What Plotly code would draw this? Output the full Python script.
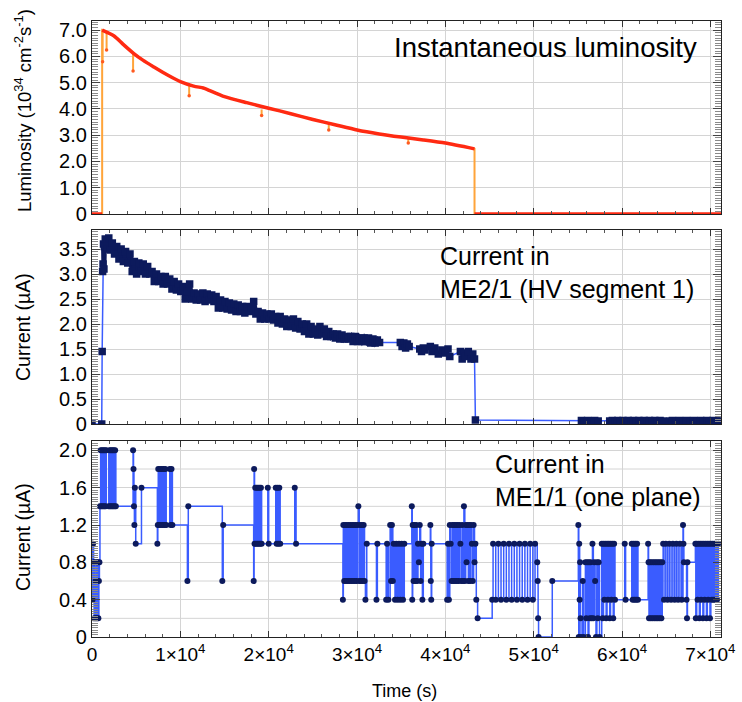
import plotly.graph_objects as go

# ---------------- data ----------------
# Top panel: instantaneous luminosity (10^34 cm^-2 s^-1)
lumi_time = [0, 1150, 1150, 2500, 3500, 4700, 5800, 7000, 8500, 10000, 11500, 12600, 13000,
             15000, 17500, 20000, 22500, 25000, 27500, 30000, 32500, 35000, 37500, 40000,
             43300, 43300, 71200]
lumi_value = [0, 0, 7.0, 6.78, 6.47, 6.12, 5.85, 5.6, 5.3, 5.04, 4.87, 4.8, 4.75,
              4.47, 4.24, 4.03, 3.82, 3.6, 3.4, 3.2, 3.05, 2.93, 2.82, 2.7,
              2.48, 0, 0]
dip_time = [1200, 1650, 4650, 11000, 19200, 26800, 35800]
dip_top = [6.95, 6.9, 6.12, 4.92, 3.98, 3.42, 2.9]
dip_low = [5.8, 6.25, 5.45, 4.5, 3.75, 3.2, 2.7]

# Middle panel: current in ME2/1 (HV segment 1), uA
me21_time = [0, 1100, 1150, 1200, 1250, 1300, 1350, 1400, 1500, 1700, 1900, 2100, 2300,
             2550, 2800, 3050, 3300, 3550, 3800, 4050, 4300, 4550, 4800, 5050, 5300,
             5550, 5800, 6050, 6300, 6550, 6800, 7050, 7300, 7550, 7800, 8050, 8300,
             8550, 8800, 9050, 9300, 9550, 9800, 10050, 10300, 10550, 10800, 11050, 11300,
             11550, 11800, 12050, 12300, 12550, 12800, 13050, 13300, 13550, 13800, 14050, 14300,
             14550, 14800, 15050, 15300, 15550, 15800, 16050, 16300, 16550, 16800, 17050, 17300,
             17550, 17800, 18050, 18300, 18550, 18800, 19050, 19300, 19550, 19800, 20050, 20300,
             20550, 20800, 21050, 21300, 21550, 21800, 22050, 22300, 22550, 22800, 23050, 23300,
             23550, 23800, 24050, 24300, 24550, 24800, 25050, 25300, 25550, 25800, 26050, 26300,
             26550, 26800, 27050, 27300, 27550, 27800, 28050, 28300, 28550, 28800, 29050, 29300,
             29550, 29800, 30050, 30300, 30550, 30800, 31050, 31300, 31550, 31800, 32050, 32300,
             32550, 34900, 35100, 35300, 35500, 35700, 35900, 37100, 37300, 37500, 37700, 38300,
             38500, 38800, 39200, 39600, 40000, 40300, 40500, 41700, 41900, 42100, 42300, 42600,
             42900, 43100, 43300, 43400, 55400, 55700, 56100, 56500, 56900, 57300, 58600, 58900,
             59200, 59500, 59800, 60100, 60400, 60700, 61000, 61300, 61600, 61900, 62200, 62500,
             62800, 63100, 63400, 63700, 64000, 64300, 64600, 65400, 65700, 66100, 66500, 66900,
             67300, 67700, 68100, 68500, 68900, 69200, 69600, 69900, 70300, 70700, 71000]
me21_current = [0.0, 0.0, 1.45, 3.05, 3.2, 3.6, 3.1, 3.55, 3.7, 3.5, 3.72, 3.48, 3.62,
                3.4, 3.55, 3.3, 3.5, 3.25, 3.45, 3.22, 3.4, 3.05, 3.25, 3.0, 3.22,
                3.05, 3.2, 3.0, 3.15, 3.0, 3.05, 2.85, 3.0, 2.85, 2.95, 2.8, 2.95,
                2.8, 2.9, 2.7, 2.85, 2.68, 2.8, 2.65, 2.75, 2.5, 2.65, 2.8, 2.5,
                2.62, 2.48, 2.6, 2.48, 2.62, 2.45, 2.6, 2.48, 2.58, 2.45, 2.55, 2.32,
                2.48, 2.32, 2.45, 2.3, 2.42, 2.28, 2.4, 2.25, 2.38, 2.25, 2.35, 2.22,
                2.35, 2.25, 2.32, 2.45, 2.2, 2.25, 2.1, 2.22, 2.1, 2.2, 2.1, 2.2,
                2.08, 2.15, 2.02, 2.15, 2.0, 2.1, 1.95, 2.08, 1.95, 2.1, 1.92, 2.05,
                1.9, 2.0, 1.85, 2.0, 1.8, 1.95, 1.8, 1.9, 1.78, 1.95, 1.8, 1.9,
                1.75, 1.85, 1.75, 1.8, 1.72, 1.8, 1.7, 1.78, 1.7, 1.75, 1.7, 1.75,
                1.65, 1.75, 1.65, 1.72, 1.65, 1.72, 1.65, 1.72, 1.62, 1.7, 1.62, 1.68,
                1.63, 1.63, 1.55, 1.62, 1.52, 1.6, 1.55, 1.5, 1.45, 1.52, 1.48, 1.55,
                1.45, 1.52, 1.4, 1.48, 1.42, 1.5, 1.35, 1.45, 1.3, 1.42, 1.35, 1.45,
                1.3, 1.4, 1.3, 0.08, 0.07, 0.06, 0.07, 0.06, 0.07, 0.06, 0.06, 0.07,
                0.06, 0.07, 0.06, 0.07, 0.06, 0.07, 0.06, 0.07, 0.06, 0.07, 0.06, 0.07,
                0.06, 0.07, 0.06, 0.07, 0.06, 0.07, 0.06, 0.06, 0.07, 0.06, 0.07, 0.06,
                0.07, 0.06, 0.07, 0.06, 0.07, 0.06, 0.07, 0.06, 0.07, 0.06, 0.06]
# the densely sampled band (dark) spans these times
me21_band_start_time = 1300
me21_band_end_time = 32550

# Bottom panel: current in ME1/1 (one plane), uA (step-wise readings)
me11_time = [0, 60, 120, 180, 240, 300, 360, 420, 480, 540, 600, 660, 720, 780, 840,
             900, 980, 1060, 1140, 1220, 1300, 1380, 1460, 1540, 1620,
             1900, 1980, 2060, 2140, 2220, 2300, 2380, 2460, 2540, 2620, 2700,
             4650, 4700, 4750, 4800, 4850, 4950, 5600,
             7400, 7450, 7500, 7600, 7700, 7800, 7900, 8000, 8100, 8200, 8300, 8400, 8800, 8900, 9000, 9100,
             10800, 10900,
             14750, 14850,
             18300, 18350, 18400, 18480, 18560, 18640, 18720, 18800, 18880, 18960, 19040, 19120, 19200,
             19900, 20000, 20800, 20900, 21000, 21100, 21200, 21300, 22950, 23100,
             28400, 28450, 28550, 28650, 28750, 28850, 28950, 29050, 29150, 29250, 29350, 29450, 29550,
             29650, 29750, 29850, 29950, 30050, 30150, 30250, 30350, 30450, 30550, 30650, 30750, 30850,
             30950, 31100,
             32200, 32300, 33300, 33400, 33550, 33750, 33850, 33950, 34050, 34150, 34300, 34450, 34600,
             34750, 34900, 35050, 35200, 35350,
             36200, 36250, 36300, 36400, 36500, 36600, 36700, 36800, 36900, 37000, 37100, 37200, 37300,
             37400, 37500,
             38300, 38350, 38400, 38450,
             40200, 40300, 40400, 40500, 40600, 40700, 40800, 40900, 41000, 41100, 41200, 41300, 41400,
             41500, 41600, 41700, 41800, 41900, 42000, 42100, 42200, 42300, 42400, 42500, 42600, 42700,
             42800, 42900, 43000, 43100, 43200, 43300, 43400, 43500, 43650,
             45300, 45400, 45700, 46000, 46300, 46600, 46900, 47200, 47500, 47800, 48100, 48400, 48700,
             49000, 49300, 49600, 49900, 50150, 50400, 50450, 50500, 50550, 52100,
             55050, 55100, 55150, 55200, 55250, 55300, 55350, 55550, 55650, 55850, 55950, 56050, 56150,
             56250, 56350, 56450, 56550, 56650, 56750, 56850, 56950, 57050, 57150, 57250, 57350, 57450,
             57700, 57800, 57900, 58000, 58100, 58200, 58300, 58400, 58500, 58600, 58700, 58800, 58900,
             59000, 59100, 59200,
             60300, 60400, 61100, 61200, 61300, 61400, 61500, 61600, 61700, 61800,
             62950, 63000, 63050, 63150, 63250, 63350, 63450, 63550, 63650, 63750, 63850, 63950, 64050,
             64150, 64250, 64350, 64450, 64550, 64650, 64750, 64950, 65150, 65350, 65550, 65750, 65950,
             66150, 66350, 66550, 66750, 66900, 66950, 67000, 67300, 67350, 67400,
             68300, 68350, 68450, 68550, 68650, 68750, 68850, 68950, 69050, 69150, 69250, 69350, 69450,
             69550, 69650, 69750, 69850, 69950, 70050, 70150, 70250, 70350, 70450, 70550, 70650, 70750,
             70900]
me11_current = [1.0, 0.4, 1.0, 0.8, 0.2, 0.8, 0.2, 0.6, 0.2, 0.8, 0.2, 0.8, 0.2, 0.6, 0.8,
                1.4, 2.0, 1.4, 2.0, 1.4, 2.0, 1.4, 2.0, 1.4, 2.0,
                1.4, 2.0, 1.4, 2.0, 1.4, 2.0, 1.4, 2.0, 1.4, 2.0, 1.4,
                2.0, 1.8, 1.4, 1.2, 1.6, 1.0, 1.6,
                1.0, 1.2, 1.8, 1.2, 1.8, 1.2, 1.8, 1.2, 1.8, 1.2, 1.8, 1.2, 1.8, 1.2, 1.8, 1.2,
                0.6, 1.4,
                0.6, 1.2,
                0.6, 1.8, 1.0, 1.6, 1.0, 1.6, 1.0, 1.6, 1.0, 1.6, 1.0, 1.6, 1.0,
                1.6, 1.0, 1.6, 1.0, 1.6, 1.0, 1.6, 1.0, 1.6, 1.0,
                0.4, 1.2, 0.6, 1.2, 0.6, 1.2, 0.6, 1.2, 0.6, 1.2, 0.6, 1.2, 0.6,
                1.2, 0.6, 1.2, 0.6, 1.2, 1.4, 0.6, 1.2, 0.6, 1.2, 0.6, 1.2, 0.6,
                0.4, 1.0,
                0.4, 1.0, 0.4, 1.0, 0.4, 1.2, 0.6, 1.2, 0.6, 1.0, 0.4, 1.0, 0.4,
                1.0, 0.4, 1.0, 0.4, 1.0,
                1.4, 0.4, 1.2, 0.6, 1.2, 0.6, 1.2, 0.6, 1.0, 0.8, 1.2, 0.6, 1.0,
                0.4, 1.0,
                1.2, 0.6, 0.4, 1.0,
                0.4, 1.0, 0.4, 1.2, 1.0, 0.6, 1.2, 0.6, 1.2, 0.6, 1.2, 0.6, 1.2,
                0.6, 1.2, 1.0, 0.6, 1.2, 0.6, 1.4, 0.6, 1.2, 0.8, 1.2, 0.6, 1.2,
                0.6, 1.2, 1.0, 0.6, 1.2, 0.8, 1.0, 0.4, 0.2,
                0.4, 1.0, 0.4, 1.0, 0.4, 1.0, 0.4, 1.0, 0.4, 1.0, 0.4, 1.0, 0.4,
                1.0, 0.4, 1.0, 0.4, 1.0, 0.8, 0.6, 0.2, 0.0, 0.6,
                1.2, 0.0, 1.0, 0.4, 0.8, 0.2, 0.0, 0.6, 0.0, 0.8, 0.2, 0.8, 0.0,
                0.8, 0.2, 0.8, 0.2, 1.0, 0.2, 0.8, 0.6, 0.0, 0.8, 0.2, 0.8, 0.0,
                1.0, 0.2, 1.0, 0.4, 1.0, 0.2, 1.0, 0.4, 1.0, 0.2, 1.0, 0.4, 1.0,
                0.2, 1.0, 0.4,
                1.0, 0.4, 1.0, 0.4, 1.0, 0.4, 1.0, 0.4, 1.0, 0.4,
                1.0, 0.8, 0.2, 0.8, 0.2, 0.8, 0.2, 0.8, 0.2, 0.8, 0.2, 0.8, 0.2,
                0.8, 0.2, 0.8, 0.2, 0.8, 1.0, 0.4, 1.0, 0.4, 1.0, 0.4, 1.0, 0.4,
                1.0, 0.4, 1.0, 0.4, 1.2, 1.0, 0.8, 0.4, 0.2, 0.8,
                1.0, 0.2, 1.0, 0.4, 1.0, 0.2, 1.0, 0.4, 1.0, 0.2, 1.0, 0.4, 1.0,
                0.2, 1.0, 0.4, 1.0, 0.2, 1.0, 0.4, 1.0, 0.4, 1.0, 0.4, 1.0, 0.4,
                1.0]

assert len(lumi_time) == len(lumi_value)
assert len(me21_time) == len(me21_current)
assert len(me11_time) == len(me11_current)

x_tick_vals = [0, 10000, 20000, 30000, 40000, 50000, 60000, 70000]
x_tick_text = ["0", "1×10<sup>4</sup>", "2×10<sup>4</sup>", "3×10<sup>4</sup>",
               "4×10<sup>4</sup>", "5×10<sup>4</sup>", "6×10<sup>4</sup>", "7×10<sup>4</sup>"]
lumi_tick_vals = [0, 1, 2, 3, 4, 5, 6, 7]
lumi_tick_text = ["0", "1.0", "2.0", "3.0", "4.0", "5.0", "6.0", "7.0"]
me21_tick_vals = [0, 0.5, 1.0, 1.5, 2.0, 2.5, 3.0, 3.5]
me21_tick_text = ["0", "0.5", "1.0", "1.5", "2.0", "2.5", "3.0", "3.5"]
me11_tick_vals = [0, 0.4, 0.8, 1.2, 1.6, 2.0]
me11_tick_text = ["0", "0.4", "0.8", "1.2", "1.6", "2.0"]
me11_grid_vals = [0.2, 0.6, 1.0, 1.4, 1.8]

# ---------------- build figure ----------------
FONT = "Liberation Sans, Arial, Helvetica, sans-serif"
RED = "#ff2a12"
ORANGE = "#ffa43a"
LINE_BLUE = "#3a5cff"
MARK = "#0c1a5c"
GRID = "#d4d4d4"

# orange connection line (including short dips)
or_x = list(lumi_time) + [None]
or_y = list(lumi_value) + [None]
for t, a, b in zip(dip_time, dip_top, dip_low):
    or_x += [t, t, None]
    or_y += [a, b, None]

# red curve: same readings, with vertical jumps left out
red_x, red_y = [lumi_time[0]], [lumi_value[0]]
for i in range(1, len(lumi_time)):
    if lumi_time[i] == lumi_time[i - 1]:
        red_x.append(None)
        red_y.append(None)
    red_x.append(lumi_time[i])
    red_y.append(lumi_value[i])

fig = go.Figure()
fig.add_trace(go.Scatter(x=or_x, y=or_y, mode="lines", line=dict(color=ORANGE, width=2),
                         xaxis="x", yaxis="y", showlegend=False, hoverinfo="skip"))
fig.add_trace(go.Scatter(x=red_x, y=red_y, mode="lines",
                         line=dict(color=RED, width=3.5, shape="spline", smoothing=0.6),
                         xaxis="x", yaxis="y", showlegend=False))
fig.add_trace(go.Scatter(x=dip_time, y=dip_low, mode="markers",
                         marker=dict(color="#ff5a20", size=3.5), xaxis="x", yaxis="y",
                         showlegend=False))

# ME2/1: blue connecting line, dark band of dense readings, dark square markers
band_x = [t for t in me21_time if me21_band_start_time <= t <= me21_band_end_time]
band_y = [v for t, v in zip(me21_time, me21_current)
          if me21_band_start_time <= t <= me21_band_end_time]
fig.add_trace(go.Scatter(x=me21_time, y=me21_current, mode="lines",
                         line=dict(color=LINE_BLUE, width=1.5),
                         xaxis="x2", yaxis="y2", showlegend=False))
fig.add_trace(go.Scatter(x=band_x, y=band_y, mode="lines",
                         line=dict(color=MARK, width=5),
                         xaxis="x2", yaxis="y2", showlegend=False, hoverinfo="skip"))
fig.add_trace(go.Scatter(x=me21_time, y=me21_current, mode="markers",
                         marker=dict(color=MARK, size=7.5, symbol="square"),
                         xaxis="x2", yaxis="y2", showlegend=False))

# ME1/1: step-wise line with markers
fig.add_trace(go.Scatter(x=me11_time, y=me11_current, mode="lines+markers",
                         line=dict(color=LINE_BLUE, width=1.5, shape="hv"),
                         marker=dict(color=MARK, size=6, symbol="circle"),
                         xaxis="x3", yaxis="y3", showlegend=False))

# plot-area pixel geometry: x 92..721, y 21..637 (figure 742x702)
L, R, T, B = 92, 21, 21, 65
H = 702 - T - B
def py(p):
    return (637 - p) / H
def px(p):
    return (p - L) / (742 - L - R)

tick_font = dict(family=FONT, size=20, color="black")
xtick_font = dict(family=FONT, size=19, color="black")

def xaxis(anchor, labels):
    return dict(range=[0, 71200], domain=[0, 1], anchor=anchor,
                tickvals=x_tick_vals, ticktext=x_tick_text, showticklabels=labels,
                tickfont=xtick_font, ticks="inside", ticklen=6, tickcolor="#333",
                showgrid=True, gridcolor=GRID, gridwidth=1, zeroline=False,
                showline=True, linecolor="#222", linewidth=1.3, mirror="allticks",
                minor=dict(tickmode="linear", tick0=0, dtick=2000, ticks="inside",
                           ticklen=3, tickcolor="#555", showgrid=False),
                fixedrange=True, automargin=False)

def yaxis(anchor, dom, rng, tv, tt, mdt):
    return dict(range=rng, domain=dom, anchor=anchor, tickvals=tv, ticktext=tt,
                tickfont=tick_font, ticks="inside", ticklen=8, tickcolor="#444",
                showgrid=True, gridcolor=GRID, gridwidth=1, zeroline=False,
                showline=True, linecolor="#222", linewidth=1.3, mirror="allticks",
                minor=dict(tickmode="linear", tick0=0, dtick=mdt, ticks="inside",
                           ticklen=6, tickcolor="#8a8a8a", tickwidth=0.8, showgrid=False),
                fixedrange=True, automargin=False)

fig.update_layout(
    width=742, height=702,
    margin=dict(l=L, r=R, t=T, b=B),
    paper_bgcolor="white", plot_bgcolor="white",
    font=dict(family=FONT, color="black"),
    xaxis=xaxis("y", False),
    xaxis2=xaxis("y2", False),
    xaxis3=xaxis("y3", True),
    yaxis=yaxis("x", [py(214), 1.0], [0, 7.35], lumi_tick_vals, lumi_tick_text, 0.1),
    yaxis2=yaxis("x2", [py(424), py(230)], [0, 3.88], me21_tick_vals, me21_tick_text, 0.05),
    yaxis3=yaxis("x3", [0.0, py(441)], [0, 2.1], me11_tick_vals, me11_tick_text, 0.025),
)
fig.update_layout(xaxis2_matches="x", xaxis3_matches="x")

# intermediate horizontal grid lines of the bottom panel (every 0.2 uA)
for g in me11_grid_vals:
    fig.add_shape(type="line", xref="x3", yref="y3", x0=0, x1=71200, y0=g, y1=g,
                  line=dict(color=GRID, width=1), layer="below")

# white label boxes (cover the grid, below the data)
for x0, x1, y0, y1 in [(380, 706, 23, 68), (428, 713, 231, 305), (485, 713, 442, 515)]:
    fig.add_shape(type="rect", xref="paper", yref="paper", x0=px(x0), x1=px(x1),
                  y0=py(y1), y1=py(y0), fillcolor="white", line=dict(width=0),
                  layer="between")

fig.add_annotation(text="Instantaneous luminosity", xref="paper", yref="paper",
                   x=px(545), y=py(48), xanchor="center", yanchor="middle", showarrow=False,
                   font=dict(family=FONT, size=27.5, color="black"))
fig.add_annotation(text="Current in<br>ME2/1 (HV segment 1)", xref="paper", yref="paper",
                   x=px(438), y=py(272), xanchor="left", yanchor="middle", align="left",
                   showarrow=False, font=dict(family=FONT, size=25, color="black"))
fig.add_annotation(text="Current in<br>ME1/1 (one plane)", xref="paper", yref="paper",
                   x=px(493), y=py(480), xanchor="left", yanchor="middle", align="left",
                   showarrow=False, font=dict(family=FONT, size=25, color="black"))

# axis titles
fig.add_annotation(text="Luminosity (10<sup>34</sup> cm<sup>-2</sup>s<sup>-1</sup>)",
                   xref="paper", yref="paper", x=px(23), y=py(111), textangle=-90,
                   xanchor="center", yanchor="middle", showarrow=False,
                   font=dict(family=FONT, size=18.5, color="black"))
fig.add_annotation(text="Current (µA)", xref="paper", yref="paper", x=px(23), y=py(327),
                   textangle=-90, xanchor="center", yanchor="middle", showarrow=False,
                   font=dict(family=FONT, size=19.5, color="black"))
fig.add_annotation(text="Current (µA)", xref="paper", yref="paper", x=px(23), y=py(537),
                   textangle=-90, xanchor="center", yanchor="middle", showarrow=False,
                   font=dict(family=FONT, size=19.5, color="black"))
fig.add_annotation(text="Time (s)", xref="paper", yref="paper", x=px(404), y=py(691),
                   xanchor="center", yanchor="middle", showarrow=False,
                   font=dict(family=FONT, size=18, color="black"))

fig.write_html("out.html", config={"displayModeBar": False},
               post_script="document.body.style.margin='0px';")
